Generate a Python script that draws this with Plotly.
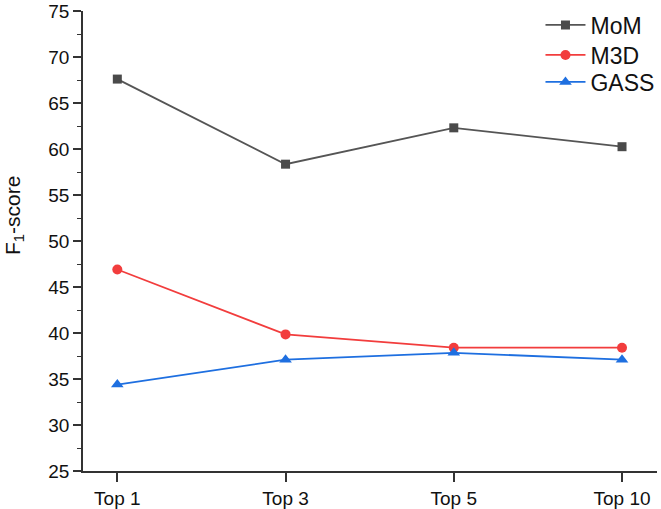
import plotly.graph_objects as go

categories = ["Top 1", "Top 3", "Top 5", "Top 10"]
mom = [67.6, 58.35, 62.3, 60.25]
m3d = [46.9, 39.85, 38.4, 38.4]
gass = [34.4, 37.1, 37.85, 37.1]

x_idx = list(range(len(categories)))

fig = go.Figure()
fig.add_trace(go.Scatter(x=x_idx, y=mom, name="MoM", mode="lines+markers",
                         line=dict(color="#555555", width=1.8), legend="legend",
                         marker=dict(symbol="square", size=9, color="#4a4a4a")))
fig.add_trace(go.Scatter(x=x_idx, y=m3d, name="M3D", mode="lines+markers",
                         line=dict(color="#f23d3d", width=1.8), legend="legend2",
                         marker=dict(symbol="circle", size=10, color="#f23d3d")))
fig.add_trace(go.Scatter(x=x_idx, y=gass, name="GASS", mode="lines+markers",
                         line=dict(color="#1e6fe0", width=1.8), legend="legend3",
                         marker=dict(symbol="triangle-up", size=11, color="#1e6fe0")))

def leg(ypx):
    return dict(x=0.797, y=(471 - ypx) / 460, xanchor="left", yanchor="middle",
                font=dict(size=23), bgcolor="rgba(0,0,0,0)", itemwidth=40)

fig.update_layout(
    width=661, height=509,
    margin=dict(l=83, r=4, t=11, b=38, autoexpand=False),
    plot_bgcolor="white", paper_bgcolor="white",
    font=dict(family="Liberation Sans, Arial, sans-serif", color="#111111", size=18),
    showlegend=True,
    legend=leg(25), legend2=leg(55), legend3=leg(82),
    xaxis=dict(range=[-0.204, 3.208], tickmode="array", tickvals=x_idx,
               ticktext=categories, showline=True, linecolor="#333333", linewidth=1.5,
               ticks="outside", ticklen=9, tickwidth=1.5, tickcolor="#333333",
               showgrid=False, zeroline=False, tickfont=dict(size=19)),
    yaxis=dict(range=[25, 75], dtick=5, tick0=25, showline=True, linecolor="#333333",
               linewidth=1.5, ticks="outside", ticklen=8, tickwidth=1.5,
               tickcolor="#333333", showgrid=False, zeroline=False,
               tickfont=dict(size=19),
               minor=dict(dtick=2.5, ticks="outside", ticklen=4, tickwidth=1.2,
                          tickcolor="#333333", showgrid=False)),
    annotations=[dict(text="F<sub>1</sub>-score", textangle=-90, showarrow=False,
                      xref="paper", yref="paper", x=(14 - 83) / 574, y=(471 - 216) / 460,
                      xanchor="center", yanchor="middle", font=dict(size=21))],
)

fig.write_html("out.html", config={"displayModeBar": False},
               post_script="document.body.style.margin='0';document.body.style.padding='0';")
